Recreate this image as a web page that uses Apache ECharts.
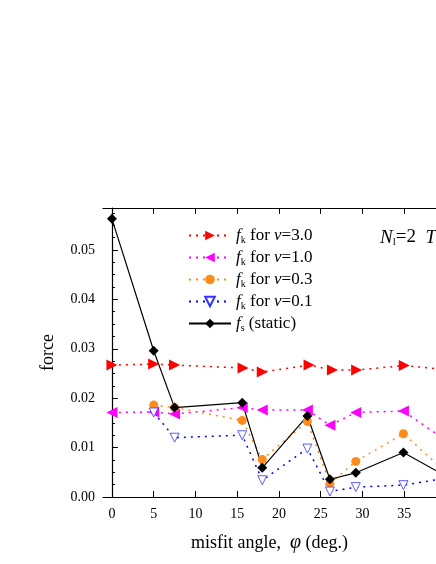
<!DOCTYPE html>
<html>
<head>
<meta charset="utf-8">
<script src="https://cdn.jsdelivr.net/npm/echarts@6/dist/echarts.min.js"></script>
<style>html,body{margin:0;padding:0;background:#fff}#main{width:436px;height:564px}</style>
</head>
<body>
<div id="main"></div>
<script>
var xRed = [0, 5.0, 7.5, 15.7, 18.0, 23.6, 26.4, 29.3, 35.0, 40];
var yRed = [0.0267, 0.0269, 0.0267, 0.0261, 0.0253, 0.0267, 0.0257, 0.0257, 0.0266, 0.0258];
var xPts = [5.0, 7.5, 15.6, 18.0, 23.4, 26.1, 29.2, 34.9, 40];
var yMag = [0.0172, 0.0168, 0.0181, 0.0176, 0.0176, 0.0145, 0.0171, 0.0174, 0.0114];
var yOra = [0.0186, 0.0181, 0.0155, 0.0076, 0.0153, 0.0027, 0.0072, 0.0128, 0.0050];
var yBlu = [0.0171, 0.0120, 0.0125, 0.0034, 0.0098, 0.0011, 0.0020, 0.0024, 0.0038];
var yBlk = [0.0296, 0.0181, 0.0191, 0.0059, 0.0164, 0.0036, 0.0049, 0.0090, 0.0042];
var x0 = 0, yMag0 = 0.0171, yBlk0 = 0.0563;
var xTicks = [0, 5, 10, 15, 20, 25, 30, 35];

function pairs(xs, ys) { return xs.map(function (x, i) { return [x, ys[i]]; }); }

var chart = echarts.init(document.getElementById('main'));
var font = 'Liberation Serif';
var rich = {
    i: { fontFamily: font, fontStyle: 'italic', fontSize: 17, color: '#000' },
    s: { fontFamily: font, fontSize: 10, color: '#000', verticalAlign: 'bottom', padding: [9, 0, 0, 0] },
    t: { fontFamily: font, fontSize: 17, color: '#000' }
};
function lbl(v) { return '{i|f}{s|k}{t| for }{i|v}{t|=' + v + '}'; }

option = {
    animation: false,
    grid: { left: 103, top: 208, right: 0, bottom: 67 },
    legend: {
        orient: 'vertical', left: 183, top: 222, itemGap: 4, itemWidth: 42, itemHeight: 12,
        textStyle: { rich: rich, fontFamily: font, fontSize: 17, color: '#000' },
        data: ['3.0', '1.0', '0.3', '0.1', 'static'],
        formatter: function (n) { return n === 'static' ? '{i|f}{s|s}{t| (static)}' : lbl(n); }
    },
    graphic: [{
        type: 'text', left: 380, top: 228,
        style: { text: '{i|N}{s|l}{t|=2  }{i|T=}', rich: { i: { fontFamily: font, fontStyle: 'italic', fontSize: 19 }, s: { fontFamily: font, fontSize: 11, verticalAlign: 'bottom', padding: [10, 0, 0, 0] }, t: { fontFamily: font, fontSize: 19 } } }
    }],
    xAxis: [{
        type: 'value', min: -1.07, max: 38.8,
        name: 'misfit angle,  {i|φ} (deg.)', nameLocation: 'middle', nameGap: 36,
        nameTextStyle: { fontFamily: font, fontSize: 18, color: '#000', rich: { i: { fontFamily: font, fontStyle: 'italic', fontSize: 20, color: '#000' } } },
        axisLine: { lineStyle: { color: '#000', width: 1.2 } },
        axisTick: { inside: true, length: 6, customValues: xTicks, lineStyle: { color: '#000' } },
        axisLabel: { customValues: xTicks, fontFamily: font, fontSize: 14, color: '#000', margin: 10 },
        splitLine: { show: false }
    }, {
        type: 'value', position: 'top', min: -1.07, max: 38.8,
        axisLine: { lineStyle: { color: '#000', width: 1.2 } },
        axisTick: { inside: true, length: 6, customValues: xTicks, lineStyle: { color: '#000' } },
        axisLabel: { show: false }, splitLine: { show: false }
    }],
    yAxis: {
        type: 'value', min: 0, max: 0.0585, interval: 0.01,
        name: 'force', nameLocation: 'middle', nameGap: 46,
        nameTextStyle: { fontFamily: font, fontSize: 18, color: '#000' },
        axisLine: { show: true, lineStyle: { color: '#000', width: 1.2 } },
        axisTick: { inside: true, length: 6, lineStyle: { color: '#000' } },
        minorTick: { show: true, splitNumber: 4, length: 3, lineStyle: { color: '#000' } },
        axisLabel: { fontFamily: font, fontSize: 14, color: '#000', showMaxLabel: false, formatter: function (v) { return v.toFixed(2); } },
        splitLine: { show: false }
    },
    series: [
        { name: '3.0', type: 'line', data: pairs(xRed, yRed), symbol: 'triangle', symbolRotate: -90, symbolSize: 11,
          itemStyle: { color: '#ff0000' }, lineStyle: { color: '#ff0000', type: [2, 5], width: 1.5 } },
        { name: '1.0', type: 'line', data: [[x0, yMag0]].concat(pairs(xPts, yMag)), symbol: 'triangle', symbolRotate: 90, symbolSize: 11,
          itemStyle: { color: '#ff00ff' }, lineStyle: { color: '#ff00ff', type: [2, 5], width: 1.5 } },
        { name: '0.3', type: 'line', data: pairs(xPts, yOra), symbol: 'circle', symbolSize: 9,
          itemStyle: { color: '#ff8c1a' }, lineStyle: { color: '#ff8c1a', type: [2, 5], width: 1.5 } },
        { name: '0.1', type: 'line', data: pairs(xPts, yBlu), symbol: 'triangle', symbolRotate: 180, symbolSize: 9,
          itemStyle: { color: '#fff', borderColor: '#3333ff', borderWidth: 0.8 }, lineStyle: { color: '#0000ff', type: [2, 5], width: 1.5 } },
        { name: 'static', type: 'line', data: [[x0, yBlk0]].concat(pairs(xPts, yBlk)), symbol: 'diamond', symbolSize: 10,
          itemStyle: { color: '#000' }, lineStyle: { color: '#000', width: 1.2 } }
    ]
};
chart.setOption(option);
window.addEventListener('resize', function () { chart.resize(); });
</script>
</body>
</html>
